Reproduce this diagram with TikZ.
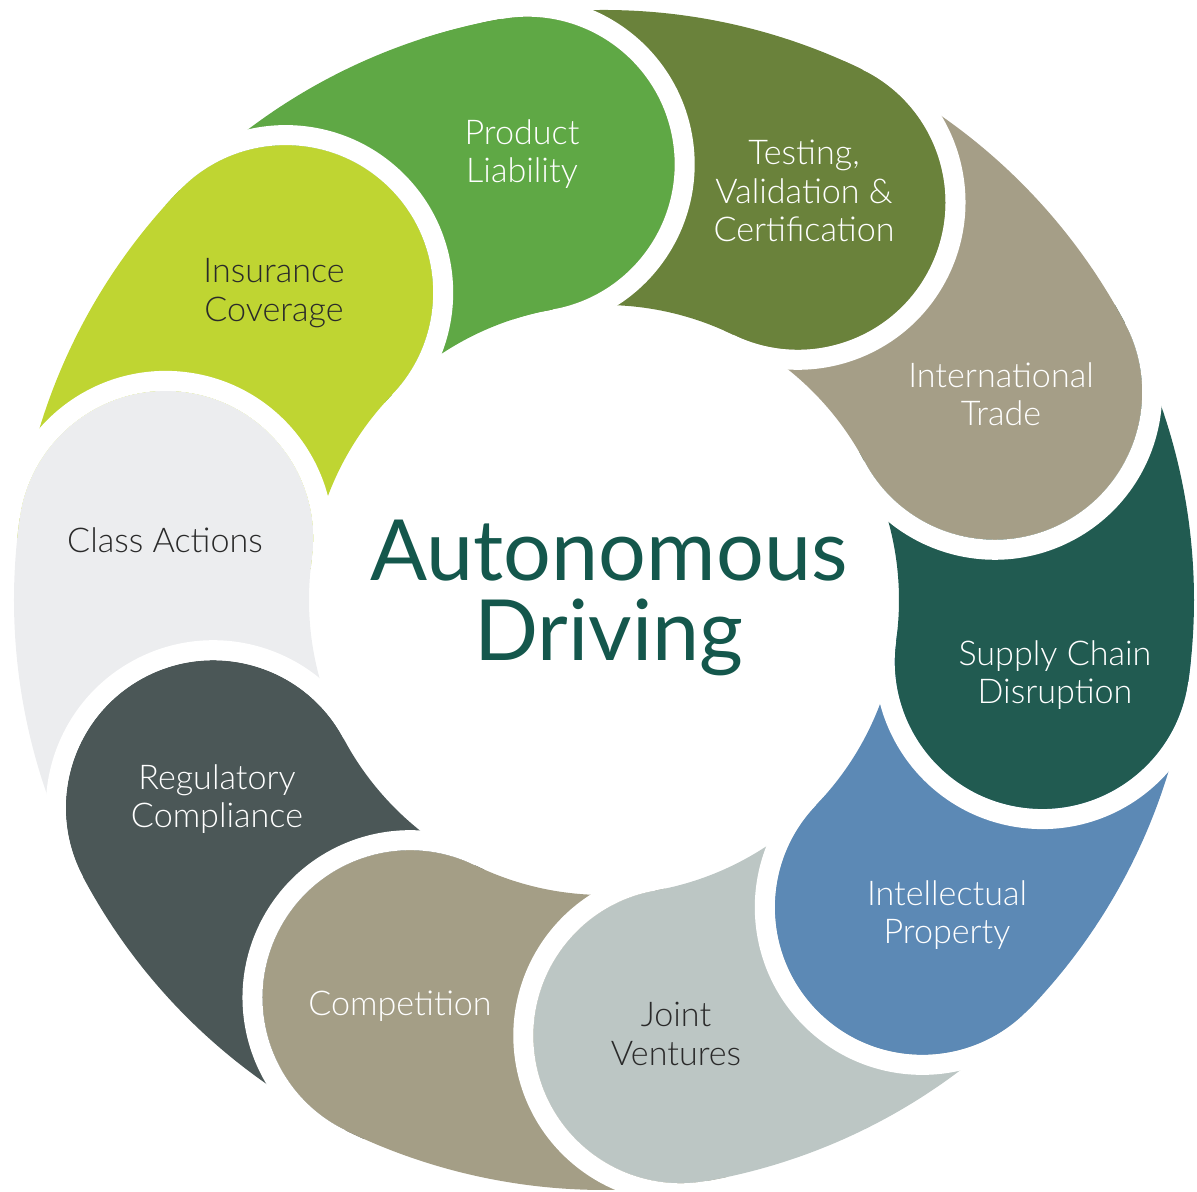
\documentclass[tikz,border=0pt]{standalone}
\usepackage{fontspec}
\setmainfont{Lato}
\IfFontExistsTF{Lato Light}{\newfontfamily\lightfont{Lato Light}}{\newfontfamily\lightfont{Lato}}

\definecolor{plgreen}{HTML}{5FA845}
\definecolor{testolive}{HTML}{6A823B}
\definecolor{tradetan}{HTML}{A59E87}
\definecolor{supplygreen}{HTML}{215B51}
\definecolor{ipblue}{HTML}{5C89B5}
\definecolor{jvgrey}{HTML}{BCC6C4}
\definecolor{comptan}{HTML}{A49E86}
\definecolor{regslate}{HTML}{4B5757}
\definecolor{classgrey}{HTML}{ECEDEF}
\definecolor{inslime}{HTML}{BFD532}
\definecolor{titlegreen}{HTML}{14574C}
\definecolor{darktext}{HTML}{2A2A2A}

% one piece of the ring: head at angle #1, tail running anticlockwise
\newcommand{\petal}[2]{%
  \fill[#2] (#1+38:590) arc[start angle=#1+38, end angle=#1, radius=590]
      arc[start angle=#1, end angle=#1-180, radius=147.5]
      arc[start angle=#1, end angle=#1+38, radius=295] -- cycle;
  \draw[white, line width=0.2cm] (#1:600) arc[start angle=#1, end angle=#1-180, radius=157.5];
}

\tikzset{
  petallabel/.style={align=center, font=\lightfont\fontsize{9.7}{10.9}\selectfont},
  darklabel/.style={petallabel, text=darktext},
  lightlabel/.style={petallabel, text=white}
}

\begin{document}
\begin{tikzpicture}[x=0.01cm, y=0.01cm]
        \useasboundingbox (-604,-592) rectangle (593,600);

        \petal{100}{plgreen}
        \petal{136}{inslime}
        \petal{172}{classgrey}
        \petal{208}{regslate}
        \petal{244}{comptan}
        \petal{280}{jvgrey}
        \petal{316}{ipblue}
        \petal{352}{supplygreen}
        \petal{28}{tradetan}
        \petal{64}{testolive}

        % head of the first piece back on top
        \begin{scope}
            \clip (0,0) -- (65:700) arc[start angle=65, end angle=108, radius=700] -- cycle;
            \petal{100}{plgreen}
        \end{scope}

        \node[lightlabel] (liability) at (-82,446) {Product\\Liability};
        \node[lightlabel] (testing) at (200,409) {Testing,\\Validation \&\\Certification};
        \node[lightlabel] (trade) at (397,206) {International\\Trade};
        \node[lightlabel] (supply) at (451,-75) {Supply Chain\\Disruption};
        \node[lightlabel] (property) at (343,-315) {Intellectual\\Property};
        \node[darklabel] (ventures) at (72,-434) {Joint\\Ventures};
        \node[lightlabel] (competition) at (-204,-406) {Competition};
        \node[lightlabel] (regulatory) at (-387,-199) {Regulatory\\Compliance};
        \node[darklabel] (classactions) at (-439,60) {Class Actions};
        \node[darklabel] (insurance) at (-330,307) {Insurance\\Coverage};

        \node[align=center, text=titlegreen, font=\fontsize{24}{22.7}\selectfont] (title) at (5,2) {Autonomous\\Driving};
\end{tikzpicture}
\end{document}
